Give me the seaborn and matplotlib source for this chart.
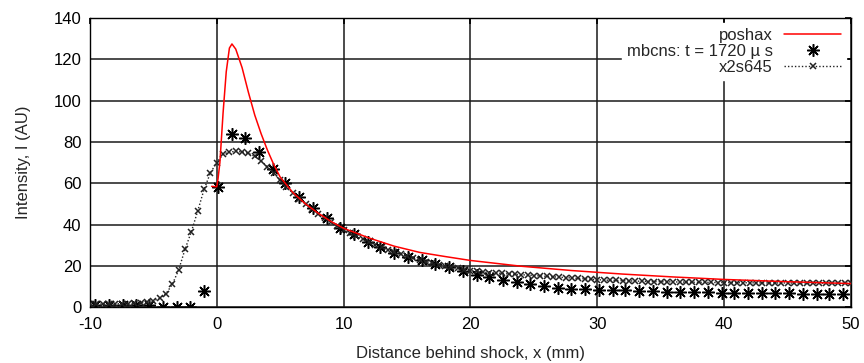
import matplotlib
matplotlib.use("Agg")
import matplotlib.pyplot as plt
import seaborn as sns
import pandas as pd

# poshax model curve
poshax_x = [-0.4, 0.0, 0.1, 0.25, 0.5, 0.75, 1.0, 1.2, 1.5, 2.0, 2.5, 3.0, 3.5, 4.0,
            4.5, 5.0, 6.0, 7.0, 8.0, 9.0, 10.0, 12.0, 14.0, 16.0, 18.0, 20.0, 24.0,
            28.0, 32.0, 36.0, 40.0, 45.0, 50.0]
poshax_y = [58.5, 58.3, 62.0, 70.0, 94.0, 114.0, 125.5, 127.5, 125.0, 116.0, 104.0,
            93.0, 84.0, 76.0, 69.0, 63.0, 55.5, 50.0, 45.5, 41.5, 38.2, 33.5, 29.5,
            26.5, 24.5, 22.6, 19.8, 17.7, 16.0, 14.6, 13.4, 12.3, 11.4]

# mbcns measurement, t = 1720 us
mbcns_x = [-9.6, -8.5, -7.4, -6.4, -5.3, -4.2, -3.1, -2.1, -1.0, 0.1, 1.2, 2.2, 3.3,
           4.4, 5.4, 6.5, 7.6, 8.7, 9.7, 10.8, 11.9, 12.9, 14.0, 15.1, 16.2, 17.2,
           18.3, 19.4, 20.5, 21.5, 22.6, 23.7, 24.7, 25.8, 26.9, 27.9, 29.0, 30.1,
           31.2, 32.2, 33.3, 34.4, 35.5, 36.5, 37.6, 38.7, 39.8, 40.8, 41.9, 43.0,
           44.0, 45.1, 46.2, 47.3, 48.3, 49.4]
mbcns_y = [1, 1, 1, 1, 1, 0, 0, 0, 8, 58, 84, 82, 75, 67, 60, 53.5, 48, 43, 38.5,
           35.3, 31.6, 29, 26, 24.4, 22.6, 20.8, 19.2, 17.3, 15.6, 14.4, 13.1, 12.0,
           11.3, 10.0, 9.4, 9.0, 8.6, 8.4, 8.2, 8.1, 7.9, 7.6, 7.5, 7.3, 7.2, 7.1,
           7.0, 7.0, 6.9, 6.8, 6.7, 6.6, 6.5, 6.5, 6.4, 6.3]

# x2s645 measurement
x2s_x = [-10.0, -9.5, -9.0, -8.5, -8.0, -7.5, -7.0, -6.5, -6.0, -5.5, -5.0, -4.5,
         -4.0, -3.5, -3.0, -2.5, -2.0, -1.5, -1.0, -0.5, 0.0, 0.5, 1.0, 1.5, 2.0,
         2.5, 3.0, 3.5, 4.0, 4.5, 5.0, 5.5, 6.0, 6.5, 7.0, 7.5, 8.0, 8.5, 9.0, 9.5,
         10.0, 10.5, 11.0, 11.5, 12.0, 12.5, 13.0, 13.5, 14.0, 14.5, 15.0, 15.5,
         16.0, 16.5, 17.0, 17.5, 18.0, 18.5, 19.0, 19.5, 20.0, 20.5, 21.0, 21.5,
         22.0, 22.5, 23.0, 23.5, 24.0, 24.5, 25.0, 25.5, 26.0, 26.5, 27.0, 27.5,
         28.0, 28.5, 29.0, 29.5, 30.0, 30.5, 31.0, 31.5, 32.0, 32.5, 33.0, 33.5,
         34.0, 34.5, 35.0, 35.5, 36.0, 36.5, 37.0, 37.5, 38.0, 38.5, 39.0, 39.5,
         40.0, 40.5, 41.0, 41.5, 42.0, 42.5, 43.0, 43.5, 44.0, 44.5, 45.0, 45.5,
         46.0, 46.5, 47.0, 47.5, 48.0, 48.5, 49.0, 49.5, 50.0]
x2s_y = [1.5, 1.5, 1.5, 1.6, 1.6, 1.6, 1.7, 1.8, 2.0, 2.3, 3.0, 4.3, 6.5, 11.0, 18.0,
         28.0, 36.5, 46.5, 57.0, 65.0, 70.0, 74.0, 75.2, 75.4, 75.2, 74.5, 73.0,
         70.8, 68.0, 65.0, 61.5, 58.2, 55.3, 52.5, 49.8, 47.4, 45.2, 43.2, 41.2,
         39.3, 37.5, 35.8, 34.3, 32.8, 31.4, 30.1, 28.9, 27.7, 26.6, 25.6, 24.6,
         23.7, 22.8, 22.0, 21.2, 20.5, 19.9, 19.3, 18.8, 18.2, 17.7, 17.3, 17.0,
         16.7, 16.5, 16.3, 16.1, 15.9, 15.7, 15.5, 15.3, 15.1, 14.9, 14.7, 14.5,
         14.3, 14.1, 13.9, 13.7, 13.5, 13.3, 13.1, 13.0, 12.9, 12.8, 12.7, 12.6,
         12.5, 12.4, 12.35, 12.3, 12.25, 12.2, 12.15, 12.1, 12.05, 12.0, 12.0,
         11.95, 11.9, 11.9, 11.85, 11.85, 11.8, 11.8, 11.75, 11.75, 11.7, 11.7,
         11.7, 11.7, 11.65, 11.65, 11.65, 11.6, 11.6, 11.6, 11.6, 11.6, 11.6, 11.6]

x_ticks = [-10, 0, 10, 20, 30, 40, 50]
y_ticks = [0, 20, 40, 60, 80, 100, 120, 140]

sns.set_theme(style="white")
plt.rcParams["font.family"] = ["Liberation Sans", "DejaVu Sans"]
plt.rcParams["font.size"] = 12
plt.rcParams["axes.unicode_minus"] = False

fig = plt.figure(figsize=(8.64, 3.63), dpi=100)
ax = fig.add_axes([0.104, 0.154, 0.881, 0.796])

df_p = pd.DataFrame({"x": poshax_x, "y": poshax_y})
df_m = pd.DataFrame({"x": mbcns_x, "y": mbcns_y})
df_x = pd.DataFrame({"x": x2s_x, "y": x2s_y})

sns.lineplot(data=df_p, x="x", y="y", ax=ax, color="#ff0000", lw=1.1,
             sort=False, label="poshax", zorder=4)
ax.plot(df_m["x"], df_m["y"], linestyle="none", marker=(8, 2, 0), ms=9,
        mew=1.1, color="black", label="mbcns: t = 1720 \u00b5 s", zorder=3)
sns.lineplot(data=df_x, x="x", y="y", ax=ax, color="#222222", lw=1.0,
             linestyle=(0, (1, 1.5)), marker="x", ms=4.5, mew=1.1,
             markeredgecolor="#222222", markerfacecolor="#222222",
             sort=False, label="x2s645", zorder=3)

ax.set_xlim(-10, 50)
ax.set_ylim(0, 140)
ax.set_xticks(x_ticks)
ax.set_yticks(y_ticks)
ax.grid(True, color="#1a1a1a", lw=1.1)
ax.set_axisbelow(True)
for s in ax.spines.values():
    s.set_color("black")
    s.set_linewidth(1.0)
ax.tick_params(axis="both", direction="in", length=4, top=True, right=True,
               labelsize=12, colors="black")
ax.tick_params(axis="x", pad=7)
ax.tick_params(axis="y", pad=6)
ax.set_xlabel("Distance behind shock, x (mm)", fontsize=12, labelpad=10)
ax.set_ylabel("Intensity, I (AU)", fontsize=12, labelpad=16)

leg = ax.legend(loc="upper right", markerfirst=False, numpoints=1,
                frameon=True, facecolor="white", edgecolor="white",
                framealpha=1.0, fancybox=False, fontsize=12,
                handlelength=3.4, handletextpad=0.7, labelspacing=0.05,
                borderaxespad=0.3, borderpad=0.3)

fig.savefig("out.png", dpi=100)
